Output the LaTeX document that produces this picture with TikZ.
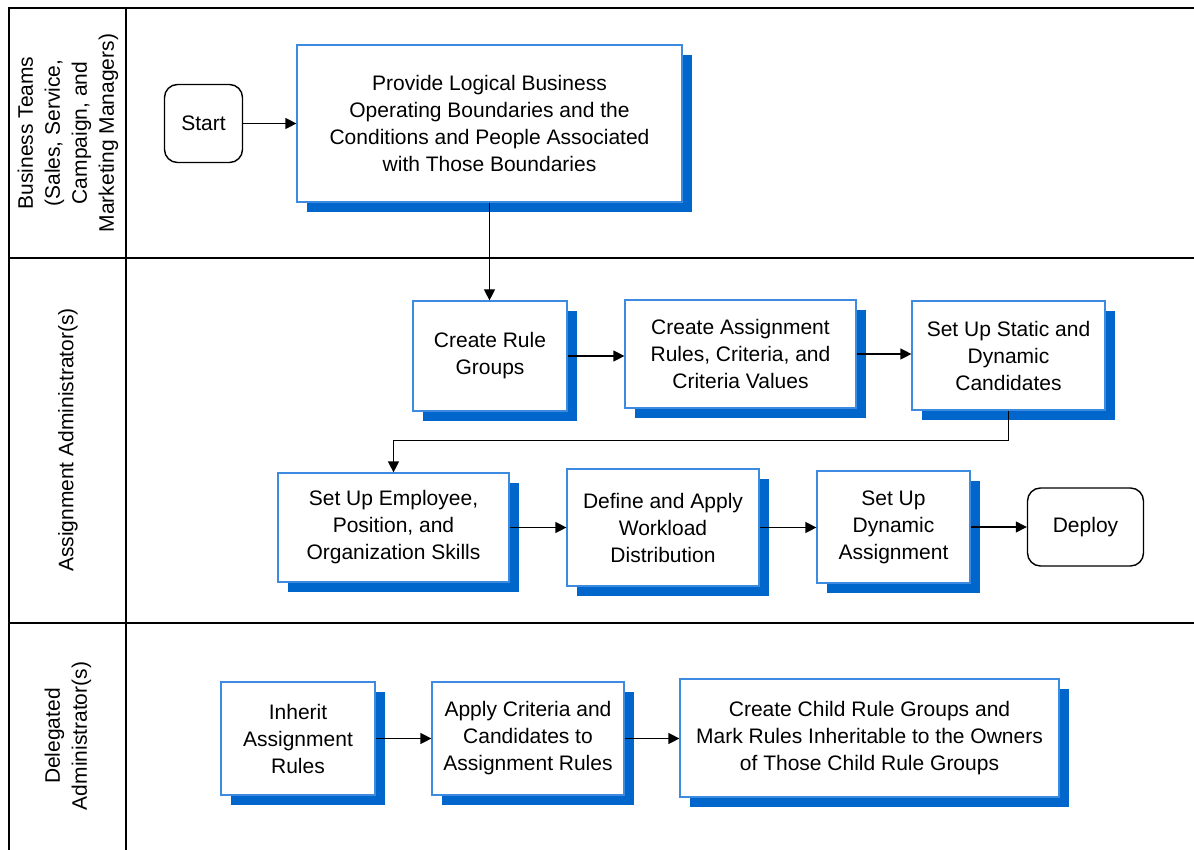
\documentclass[tikz,border=0pt]{standalone}
\usepackage{fontspec}
\setmainfont{Liberation Sans}
\usepackage{tikz}
\usetikzlibrary{arrows.meta,shadows}

\definecolor{boxedge}{HTML}{3D8BE0}
\definecolor{boxshadow}{HTML}{0066CC}

\tikzset{
  taskbox/.style={draw=boxedge,line width=1.2pt,fill=white,align=center,inner sep=0pt,
    drop shadow={shadow xshift=10pt,shadow yshift=-10pt,fill=boxshadow,opacity=1}},
  endbox/.style={draw,line width=1.4pt,fill=white,rounded corners=13pt,align=center,inner sep=0pt},
  lanelabel/.style={rotate=90,align=center},
  flow/.style={line width=1.2pt,-{Triangle[length=11pt,width=11pt]}}
}

\begin{document}
\begin{tikzpicture}[x=1pt,y=-1pt,font=\fontsize{21}{27}\selectfont]
  \useasboundingbox (0,0) rectangle (1194,850);

  \draw[line width=1.5pt] (9,850) -- (9,8) -- (1194,8);
  \draw[line width=1.5pt] (126,8) -- (126,850);
  \draw[line width=1.5pt] (9,258) -- (1194,258);
  \draw[line width=1.5pt] (9,623) -- (1194,623);

  \node[lanelabel] (lane1) at (68,133) {Business Teams\\(Sales, Service,\\Campaign, and\\Marketing Managers)};
  \node[lanelabel] (lane2) at (68,440) {Assignment Administrator(s)};
  \node[lanelabel] (lane3) at (68,736) {Delegated\\Administrator(s)};

  \node[endbox,minimum width=78pt,minimum height=78pt] (start) at (203.5,123.5) {Start};
  \node[taskbox,minimum width=385pt,minimum height=157pt] (provide) at (489.5,123.5)
    {Provide Logical Business\\Operating Boundaries and the\\Conditions and People Associated\\with Those Boundaries};

  \node[taskbox,minimum width=154pt,minimum height=110pt] (rulegroups) at (490,356) {Create Rule\\Groups};
  \node[taskbox,minimum width=231pt,minimum height=108pt] (rules) at (740.5,354)
    {Create Assignment\\Rules, Criteria, and\\Criteria Values};
  \node[taskbox,minimum width=193pt,minimum height=109pt] (candidates) at (1008.5,355.5)
    {Set Up Static and\\Dynamic\\Candidates};

  \node[taskbox,minimum width=231pt,minimum height=109pt] (skills) at (393.5,527.5)
    {Set Up Employee,\\Position, and\\Organization Skills};
  \node[taskbox,minimum width=192pt,minimum height=117pt] (workload) at (663,527.5)
    {Define and Apply\\Workload\\Distribution};
  \node[taskbox,minimum width=153pt,minimum height=112pt] (dynamic) at (893.5,527)
    {Set Up\\Dynamic\\Assignment};
  \node[endbox,minimum width=116pt,minimum height=78pt] (deploy) at (1085.5,527) {Deploy};

  \node[taskbox,minimum width=154pt,minimum height=113pt] (inherit) at (298,738.5)
    {Inherit\\Assignment\\Rules};
  \node[taskbox,minimum width=192pt,minimum height=113pt] (apply) at (528,738.5)
    {Apply Criteria and\\Candidates to\\Assignment Rules};
  \node[taskbox,minimum width=379pt,minimum height=118pt] (child) at (869.5,738)
    {Create Child Rule Groups and\\Mark Rules Inheritable to the Owners\\of Those Child Rule Groups};

  \draw[flow] (start.east) -- (start.east -| provide.west);
  \draw[flow] (provide.south) -- (provide.south |- rulegroups.north);
  \draw[flow] (rulegroups.east) -- (rulegroups.east -| rules.west);
  \draw[flow] (rules.east) -- (rules.east -| candidates.west);
  \draw[flow] (candidates.south) -- ++(0,30) -| (skills.north);
  \draw[flow] (skills.east) -- (skills.east -| workload.west);
  \draw[flow] (workload.east) -- (workload.east -| dynamic.west);
  \draw[flow] (dynamic.east) -- (dynamic.east -| deploy.west);
  \draw[flow] (inherit.east) -- (inherit.east -| apply.west);
  \draw[flow] (apply.east) -- (apply.east -| child.west);
\end{tikzpicture}
\end{document}
